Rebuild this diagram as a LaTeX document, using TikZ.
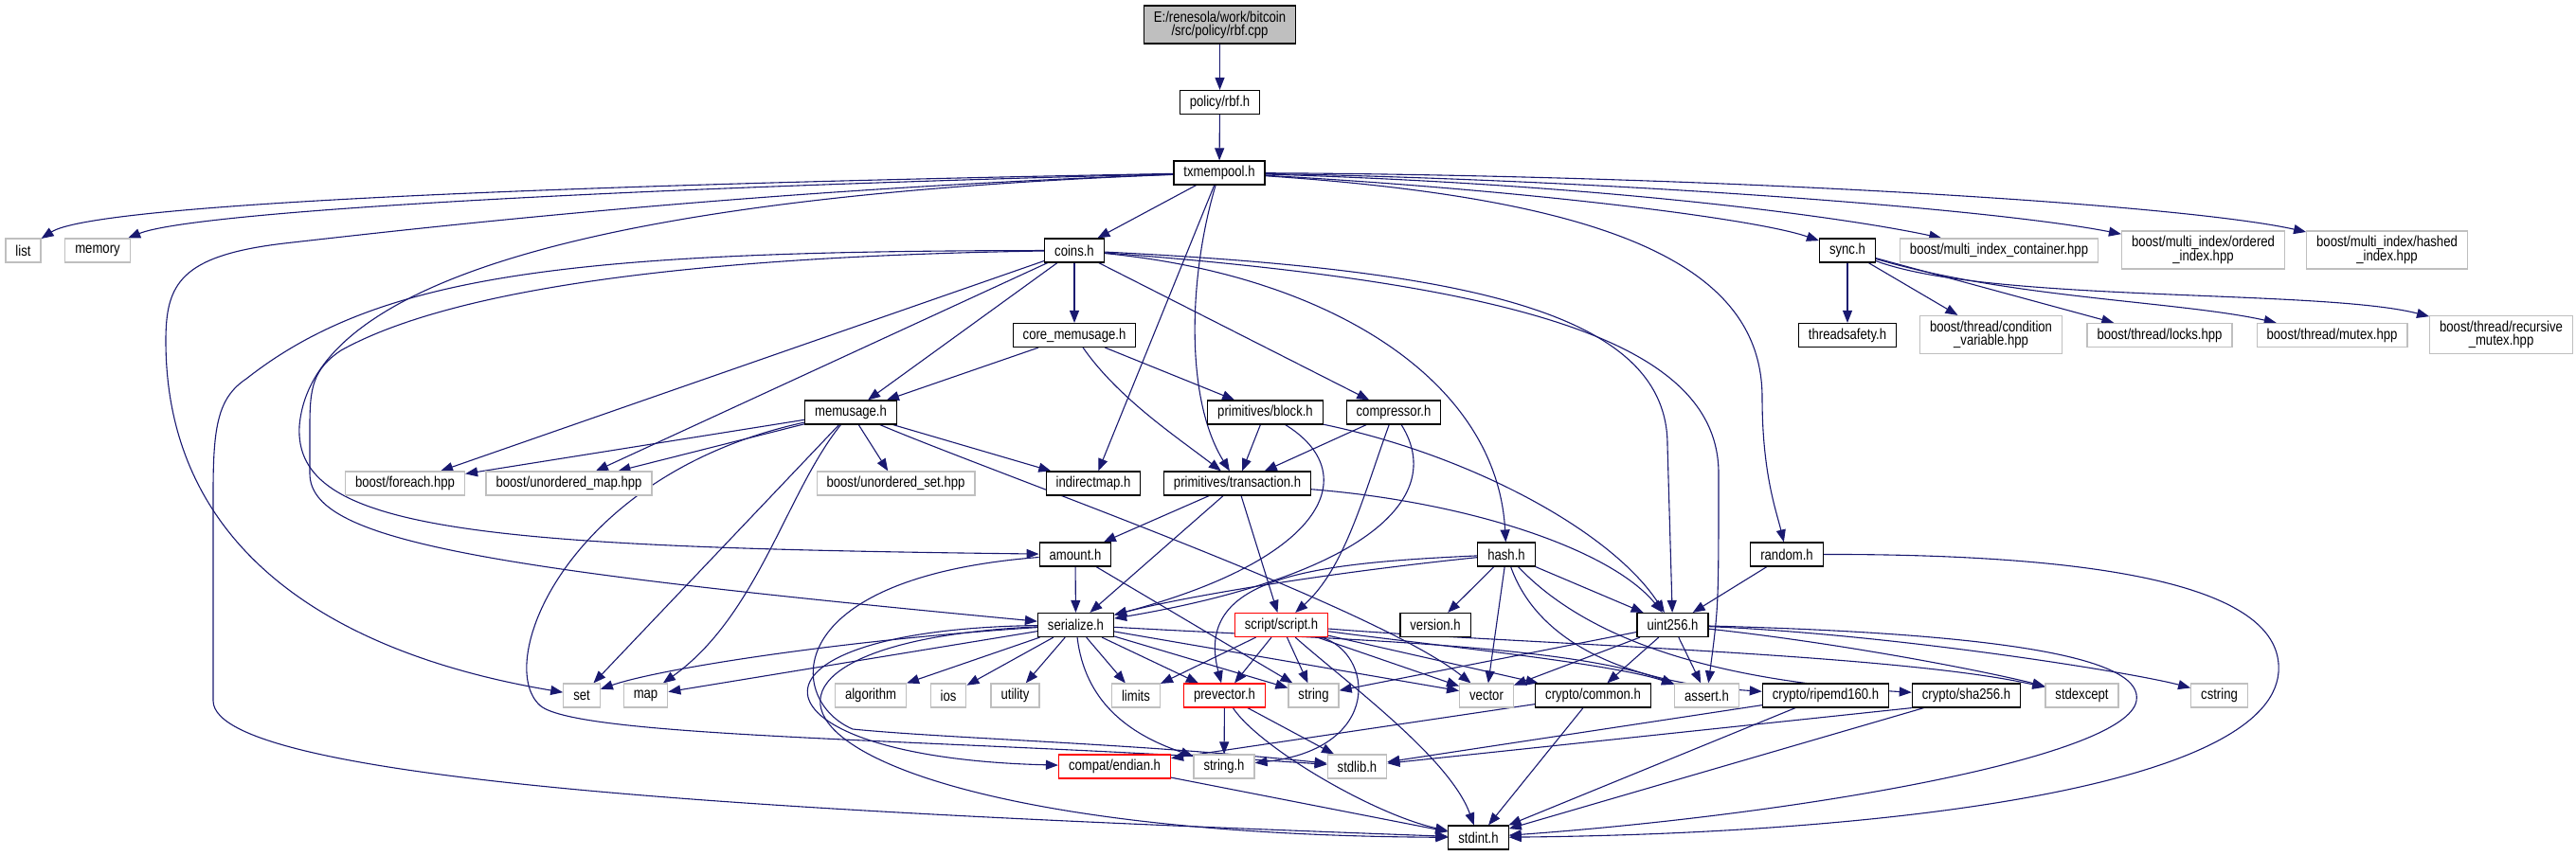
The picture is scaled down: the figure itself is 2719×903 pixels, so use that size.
\documentclass[tikz,border=0pt]{standalone}
\usepackage{fontspec}
\setmainfont{Liberation Sans}[FakeStretch=0.83]
\usepackage{tikz}
\usetikzlibrary{arrows.meta,backgrounds}
\definecolor{edgeblue}{RGB}{25,25,112}
\definecolor{sysgrey}{RGB}{191,191,191}
\tikzset{
  >={Triangle[length=13pt,width=10pt]},
  hdr/.style={draw=#1,fill=white,line width=1.2pt,inner xsep=10.5pt,inner ysep=2pt,
    minimum height=25pt,align=center,font=\fontsize{15.8}{14}\selectfont},
  hdr/.default=black,
  filebox/.style={hdr=black},
  sysbox/.style={hdr=sysgrey},
  cutbox/.style={hdr=red},
  rootbox/.style={hdr=black,fill=sysgrey,minimum height=40pt},
  twoline/.style={minimum height=40pt},
  incl/.style={->,draw=edgeblue,line width=1.1pt},
}

\begin{document}
\begin{tikzpicture}[x=1pt,y=-1pt]
  \useasboundingbox (0,0) rectangle (2719,903);
  \node[rootbox] (rbfcpp) at (1287.5,26) {E:/renesola/work/bitcoin\\/src/policy/rbf.cpp};
  \node[filebox] (rbfh) at (1287.5,108) {policy/rbf.h};
  \node[filebox] (txmempool) at (1287,182.5) {txmempool.h};
  \node[sysbox] (list) at (24.5,264.5) {list};
  \node[sysbox] (memory) at (103,264.5) {memory};
  \node[filebox] (coins) at (1134,264.5) {coins.h};
  \node[filebox] (sync) at (1950,264.5) {sync.h};
  \node[sysbox] (micont) at (2110,264.5) {boost/multi\_index\_container.hpp};
  \node[sysbox,twoline] (ordidx) at (2325.5,264) {boost/multi\_index/ordered\\\_index.hpp};
  \node[sysbox,twoline] (hashidx) at (2519.5,264) {boost/multi\_index/hashed\\\_index.hpp};
  \node[filebox] (coremem) at (1134,354) {core\_memusage.h};
  \node[filebox] (threadsafety) at (1950,354) {threadsafety.h};
  \node[sysbox,twoline] (condvar) at (2101.5,353.5) {boost/thread/condition\\\_variable.hpp};
  \node[sysbox] (locks) at (2279.5,354) {boost/thread/locks.hpp};
  \node[sysbox] (mutex) at (2461.5,354) {boost/thread/mutex.hpp};
  \node[sysbox,twoline] (recmutex) at (2640,353.5) {boost/thread/recursive\\\_mutex.hpp};
  \node[filebox] (memusage) at (898,435.5) {memusage.h};
  \node[filebox] (block) at (1335.5,435.5) {primitives/block.h};
  \node[filebox] (compressor) at (1471,435.5) {compressor.h};
  \node[sysbox] (foreach) at (427.5,510.5) {boost/foreach.hpp};
  \node[sysbox] (umap) at (600.5,510.5) {boost/unordered\_map.hpp};
  \node[sysbox] (uset) at (945.5,510.5) {boost/unordered\_set.hpp};
  \node[filebox] (indirectmap) at (1154,510.5) {indirectmap.h};
  \node[filebox] (transaction) at (1306,510.5) {primitives/transaction.h};
  \node[filebox] (amount) at (1135,585.5) {amount.h};
  \node[filebox] (hash) at (1590,585.5) {hash.h};
  \node[filebox] (random) at (1886,585.5) {random.h};
  \node[filebox] (serialize) at (1135.5,660) {serialize.h};
  \node[cutbox] (script) at (1352.5,660) {script/script.h};
  \node[filebox] (version) at (1515,660) {version.h};
  \node[filebox] (uint256) at (1765.5,660) {uint256.h};
  \node[sysbox] (set) at (614,734.5) {set};
  \node[sysbox] (map) at (681.5,734.5) {map};
  \node[sysbox] (algorithm) at (919,734.5) {algorithm};
  \node[sysbox] (ios) at (1001,734.5) {ios};
  \node[sysbox] (utility) at (1071.5,734.5) {utility};
  \node[sysbox] (limits) at (1199,734.5) {limits};
  \node[cutbox] (prevector) at (1292.5,734.5) {prevector.h};
  \node[sysbox] (string) at (1386.5,734.5) {string};
  \node[sysbox] (vector) at (1569,734.5) {vector};
  \node[filebox] (common) at (1681.5,734.5) {crypto/common.h};
  \node[sysbox] (assert) at (1801.5,734.5) {assert.h};
  \node[filebox] (ripemd) at (1927,734.5) {crypto/ripemd160.h};
  \node[filebox] (sha256) at (2075.5,734.5) {crypto/sha256.h};
  \node[sysbox] (stdexcept) at (2197.5,734.5) {stdexcept};
  \node[sysbox] (cstring) at (2342.5,734.5) {cstring};
  \node[cutbox] (endian) at (1176.5,809.5) {compat/endian.h};
  \node[sysbox] (stringh) at (1292,809.5) {string.h};
  \node[sysbox] (stdlib) at (1432.5,809.5) {stdlib.h};
  \node[filebox] (stdint) at (1560.5,884.5) {stdint.h};

  \begin{scope}[on background layer]
  \draw[incl] (rbfcpp) -- (rbfh);
  \draw[incl] (rbfh) -- (txmempool);
  \draw[incl] (txmempool) .. controls (600,195) and (100,215) .. (list);
  \draw[incl] (txmempool) .. controls (600,200) and (200,225) .. (memory);
  \draw[incl] (txmempool) .. controls (800,200) and (450,240) .. (300,257) .. controls (190,270) and (175,300) .. (175,360) .. controls (175,580) and (350,690) .. (set);
  \draw[incl] (txmempool) .. controls (700,205) and (330,280) .. (316,450) .. controls (310,560) and (500,578) .. (amount);
  \draw[incl] (txmempool) -- (coins);
  \draw[incl] (txmempool) -- (indirectmap);
  \draw[incl] (txmempool) .. controls (1255,290) and (1250,420) .. (transaction);
  \draw[incl] (txmempool) .. controls (1600,200) and (1850,230) .. (sync);
  \draw[incl] (txmempool) .. controls (1700,210) and (1860,280) .. (1860,420) .. controls (1860,500) and (1875,540) .. (random);
  \draw[incl] (txmempool) .. controls (1700,195) and (1950,230) .. (micont);
  \draw[incl] (txmempool) .. controls (1700,190) and (2100,220) .. (ordidx);
  \draw[incl] (txmempool) .. controls (1800,185) and (2300,215) .. (hashidx);

  \draw[incl] (coins) -- (coremem);
  \draw[incl] (coins) -- (memusage);
  \draw[incl] (coins) -- (compressor);
  \draw[incl] (coins) -- (foreach);
  \draw[incl] (coins) -- (umap);
  \draw[incl] (coins) .. controls (1400,290) and (1580,400) .. (hash);
  \draw[incl] (coins) .. controls (1550,285) and (1760,330) .. (1760,470) -- (uint256);
  \draw[incl] (coins) .. controls (1600,300) and (1814,360) .. (1814,500) .. controls (1814,640) .. (assert);
  \draw[incl] (coins) .. controls (650,272) and (450,320) .. (360,370) .. controls (330,390) and (327,410) .. (327,450) -- (327,500) .. controls (327,570) and (500,600) .. (serialize);
  \draw[incl] (coins) .. controls (600,265) and (400,290) .. (260,400) .. controls (230,420) and (225,450) .. (225,520) -- (225,740) .. controls (225,830) and (900,860) .. (stdint);

  \draw[incl] (memusage) -- (foreach);
  \draw[incl] (memusage) -- (umap);
  \draw[incl] (memusage) -- (set);
  \draw[incl] (memusage) .. controls (830,520) and (800,650) .. (map);
  \draw[incl] (memusage) -- (uset);
  \draw[incl] (memusage) .. controls (1050,500) and (1450,640) .. (vector);
  \draw[incl] (memusage) -- (indirectmap);
  \draw[incl] (memusage) .. controls (600,500) and (520,700) .. (570,745) .. controls (610,780) and (1000,780) .. (stdlib);

  \draw[incl] (coremem) -- (memusage);
  \draw[incl] (coremem) -- (block);
  \draw[incl] (coremem) .. controls (1180,420) and (1240,460) .. (transaction);

  \draw[incl] (block) -- (transaction);
  \draw[incl] (block) .. controls (1440,500) and (1400,590) .. (serialize);
  \draw[incl] (block) .. controls (1550,480) and (1700,560) .. (uint256);

  \draw[incl] (compressor) -- (transaction);
  \draw[incl] (compressor) .. controls (1440,520) and (1420,600) .. (script);
  \draw[incl] (compressor) .. controls (1530,530) and (1430,610) .. (serialize);

  \draw[incl] (transaction) -- (amount);
  \draw[incl] (transaction) -- (serialize);
  \draw[incl] (transaction) -- (script);
  \draw[incl] (transaction) .. controls (1550,530) and (1700,580) .. (uint256);

  \draw[incl] (amount) -- (serialize);
  \draw[incl] (amount) -- (string);
  \draw[incl] (amount) .. controls (820,610) and (830,740) .. (900,770) .. controls (1000,780) and (1200,785) .. (stdlib);

  \draw[incl] (hash) -- (version);
  \draw[incl] (hash) -- (vector);
  \draw[incl] (hash) -- (uint256);
  \draw[incl] (hash) .. controls (1620,670) and (1700,720) .. (ripemd);
  \draw[incl] (hash) .. controls (1680,680) and (1820,720) .. (sha256);
  \draw[incl] (hash) .. controls (1380,595) and (1260,610) .. (prevector);
  \draw[incl] (hash) .. controls (1400,605) and (1250,630) .. (serialize);

  \draw[incl] (random) -- (uint256);
  \draw[incl] (random) .. controls (2300,585) and (2410,640) .. (2405,710) .. controls (2395,830) and (2000,880) .. (stdint);

  \draw[incl] (uint256) -- (string);
  \draw[incl] (uint256) -- (vector);
  \draw[incl] (uint256) -- (common);
  \draw[incl] (uint256) -- (assert);
  \draw[incl] (uint256) .. controls (1950,680) and (2100,710) .. (stdexcept);
  \draw[incl] (uint256) .. controls (2000,670) and (2250,710) .. (cstring);
  \draw[incl] (uint256) .. controls (2150,670) and (2262,700) .. (2255,740) .. controls (2245,800) and (1900,860) .. (stdint);

  \draw[incl] (serialize) .. controls (900,675) and (700,705) .. (set);
  \draw[incl] (serialize) -- (map);
  \draw[incl] (serialize) -- (algorithm);
  \draw[incl] (serialize) -- (ios);
  \draw[incl] (serialize) -- (utility);
  \draw[incl] (serialize) -- (limits);
  \draw[incl] (serialize) -- (prevector);
  \draw[incl] (serialize) -- (string);
  \draw[incl] (serialize) -- (vector);
  \draw[incl] (serialize) .. controls (1400,675) and (1650,680) .. (assert);
  \draw[incl] (serialize) .. controls (760,665) and (780,800) .. (endian);
  \draw[incl] (serialize) .. controls (1145,740) and (1190,775) .. (stringh);
  \draw[incl] (serialize) .. controls (700,680) and (800,880) .. (stdint);

  \draw[incl] (script) -- (limits);
  \draw[incl] (script) -- (prevector);
  \draw[incl] (script) -- (string);
  \draw[incl] (script) -- (vector);
  \draw[incl] (script) -- (common);
  \draw[incl] (script) .. controls (1500,680) and (1700,700) .. (assert);
  \draw[incl] (script) .. controls (1600,680) and (2000,690) .. (stdexcept);
  \draw[incl] (script) .. controls (1420,720) and (1530,800) .. (stdint);
  \draw[incl] (script) .. controls (1450,690) and (1460,790) .. (stringh);

  \draw[incl] (prevector) -- (stringh);
  \draw[incl] (prevector) -- (stdlib);
  \draw[incl] (prevector) .. controls (1330,790) and (1450,860) .. (stdint);
  \draw[incl] (endian) -- (stdint);
  \draw[incl] (common) -- (endian);
  \draw[incl] (common) -- (stdint);
  \draw[incl] (ripemd) -- (stdlib);
  \draw[incl] (ripemd) -- (stdint);
  \draw[incl] (sha256.south west) -- (stdlib);
  \draw[incl] (sha256) -- (stdint);

  \draw[incl] (sync) -- (threadsafety);
  \draw[incl] (sync) -- (condvar);
  \draw[incl] (sync) -- (locks);
  \draw[incl] (sync) .. controls (2120,315) and (2300,318) .. (mutex);
  \draw[incl] (sync) .. controls (2100,320) and (2450,305) .. (recmutex);
  \end{scope}
\end{tikzpicture}
\end{document}
